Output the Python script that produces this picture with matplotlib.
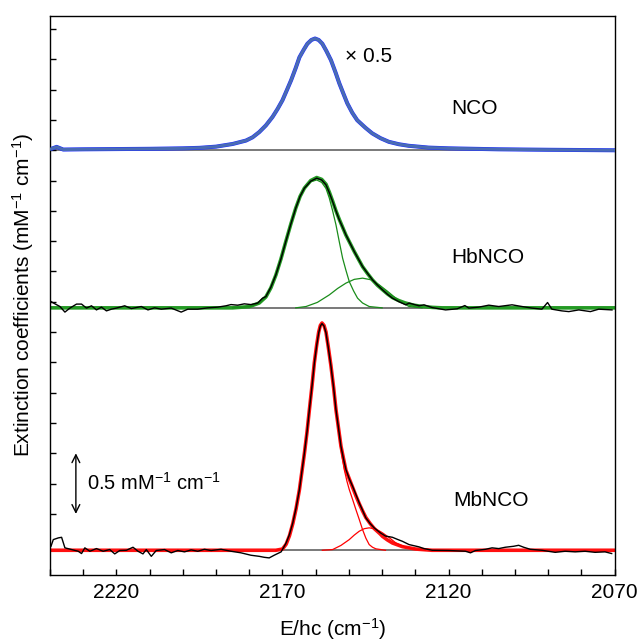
import matplotlib
matplotlib.use("Agg")
import matplotlib.pyplot as plt
from matplotlib.ticker import MultipleLocator, FixedLocator

plt.rcParams['font.family'] = ['Liberation Sans', 'DejaVu Sans']
plt.rcParams['mathtext.fontset'] = 'custom'
plt.rcParams['mathtext.rm'] = 'Liberation Sans'
plt.rcParams['mathtext.it'] = 'Liberation Sans'

# ── data (wavenumber in cm-1, extinction relative to each baseline) ──────────
base_nco, base_hb, base_mb = 3.5, 2.2, 0.2

nco_x = [2240, 2238, 2236, 2230, 2220, 2210, 2200, 2195, 2190, 2185, 2181,
         2179, 2177, 2175, 2173, 2171.5, 2170, 2168.7, 2167.4, 2166, 2164.9,
         2163.6, 2162.5, 2161.3, 2160.2, 2159.1, 2158, 2156.8, 2155.4, 2154,
         2152.9, 2151.7, 2150.5, 2149, 2147.5, 2145, 2143, 2140.5, 2138,
         2135, 2132, 2126, 2120, 2105, 2090, 2070]
nco_y = [0.008, 0.028, 0.006, 0.008, 0.010, 0.012, 0.016, 0.020, 0.030, 0.052,
         0.080, 0.107, 0.150, 0.205, 0.275, 0.340, 0.413, 0.495, 0.578, 0.680,
         0.767, 0.830, 0.879, 0.910, 0.922, 0.910, 0.879, 0.820, 0.743, 0.640,
         0.553, 0.470, 0.388, 0.310, 0.248, 0.185, 0.140, 0.100, 0.070,
         0.050, 0.037, 0.022, 0.016, 0.008, 0.004, 0.000]

hb_x = [2239.7, 2238.5, 2237, 2235.5, 2234, 2232, 2230.5, 2229, 2227.5, 2226,
        2224.5, 2223, 2221.5, 2220, 2217.5, 2215.5, 2212.5, 2210.5, 2208.5,
        2206.5, 2203.5, 2200.5, 2198.5, 2195.5, 2192.5, 2189.5, 2187, 2185.5,
        2183.5, 2181.5, 2179.5, 2177.5, 2176, 2175, 2173.5, 2172, 2170.5,
        2169, 2167.5, 2166, 2164.7, 2163.4, 2161.5, 2159.7, 2158.2, 2156.9,
        2155.9, 2154.9, 2153.9, 2152.9, 2151.9, 2150.9, 2149.6, 2148.4, 2147.1,
        2145.9, 2144.4, 2142.9, 2141.4, 2139.9, 2138.4, 2136.9, 2134.9, 2132.9,
        2131.9, 2128.9, 2127.4, 2124.9, 2120.9, 2117.4, 2115.1, 2113.9, 2110.9,
        2107.9, 2104.9, 2100.9, 2097.9, 2094.9, 2091.9, 2090.2, 2088.9, 2085.9,
        2083.8, 2080.8, 2077.3, 2074.8, 2070.8]
hb_y = [0.052, 0.033, 0.011, -0.035, -0.002, 0.031, 0.031, -0.002, 0.017,
        -0.017, 0.006, -0.025, -0.011, -0.002, 0.017, -0.006, 0.011, -0.017,
        0.000, -0.011, -0.002, -0.035, -0.011, -0.011, 0.000, 0.006, 0.017,
        0.027, 0.022, 0.033, 0.027, 0.039, 0.080, 0.093, 0.170, 0.272, 0.400,
        0.547, 0.690, 0.823, 0.920, 0.988, 1.045, 1.070, 1.055, 1.015, 0.950,
        0.877, 0.800, 0.726, 0.665, 0.602, 0.530, 0.465, 0.400, 0.341, 0.285,
        0.231, 0.188, 0.149, 0.112, 0.080, 0.050, 0.025, 0.039, 0.017, 0.025,
        0.002, -0.017, -0.008, 0.019, -0.002, 0.006, 0.022, 0.011, 0.025,
        0.011, -0.002, -0.011, 0.044, -0.011, -0.025, -0.031, -0.017, -0.031,
        -0.011, -0.017]

hb_fit_x = [2240, 2185, 2180, 2177, 2175, 2173.5, 2172, 2170.5, 2169, 2167.5,
            2166, 2164.7, 2163.4, 2161.5, 2159.7, 2158.2, 2156.9, 2155.9,
            2154.9, 2153.9, 2152.9, 2151.9, 2150.9, 2149.6, 2148.4, 2147.1,
            2145.9, 2144.4, 2142.9, 2141.4, 2139.9, 2138.4, 2136.9, 2135,
            2133, 2130.5, 2128, 2125, 2122, 2070]
hb_fit_y = [0.0, 0.0, 0.010, 0.040, 0.090, 0.165, 0.270, 0.400, 0.547, 0.690,
            0.823, 0.920, 0.988, 1.050, 1.075, 1.060, 1.020, 0.955, 0.880,
            0.800, 0.730, 0.665, 0.600, 0.530, 0.465, 0.400, 0.340, 0.283,
            0.230, 0.186, 0.150, 0.115, 0.085, 0.060, 0.040, 0.022, 0.012,
            0.004, 0.0, 0.0]

hb_c1_x = [2185, 2180, 2177, 2175, 2173.5, 2172, 2170.5, 2169, 2167.5, 2166,
           2164.7, 2163.4, 2161.5, 2159.7, 2158.2, 2156.9, 2155.9, 2154.9,
           2153.9, 2152.9, 2151.9, 2150.9, 2149.9, 2148.6, 2147.4, 2145.9,
           2143.9, 2140]
hb_c1_y = [0.0, 0.010, 0.040, 0.090, 0.165, 0.270, 0.400, 0.547, 0.690,
           0.823, 0.920, 0.985, 1.040, 1.055, 1.035, 0.985, 0.905, 0.800,
           0.685, 0.545, 0.410, 0.310, 0.217, 0.140, 0.080, 0.040, 0.011, 0.0]

hb_c2_x = [2166, 2162.9, 2159.5, 2155.9, 2153.4, 2150.9, 2148.4, 2145.9,
           2143.4, 2140.9, 2138.4, 2135.9, 2133.9, 2131.9, 2128]
hb_c2_y = [0.0, 0.011, 0.045, 0.107, 0.160, 0.204, 0.235, 0.245, 0.232,
           0.190, 0.137, 0.080, 0.042, 0.011, 0.0]

mb_x = [2239.7, 2239, 2237.5, 2236.5, 2235.5, 2233.5, 2231.5, 2230.5, 2229.5,
        2228, 2226, 2224, 2222, 2220.5, 2219, 2217, 2215, 2213.5, 2212, 2211,
        2209.5, 2208, 2205.5, 2203.5, 2201.5, 2199.5, 2197.5, 2195.5, 2193.5,
        2191.5, 2188.5, 2185.5, 2182.5, 2179.5, 2177, 2175.5, 2174, 2172.5,
        2170.4, 2168.9, 2167.9, 2166.9, 2165.9, 2164.9, 2163.4, 2162.6, 2161.9,
        2161.1, 2160.4, 2159.7, 2159.1, 2158.6, 2158.1, 2157.5, 2156.9, 2156.2,
        2155.4, 2154.6, 2153.9, 2153.1, 2152.4, 2151.6, 2150.9, 2149.9, 2148.9,
        2147.9, 2146.9, 2145.9, 2144.9, 2143.6, 2142.4, 2140.6, 2138.9, 2137.9,
        2136.9, 2135.4, 2133.9, 2131.9, 2128.9, 2127.4, 2124.9, 2119.9, 2114.9,
        2113.4, 2111.9, 2108.9, 2106.9, 2104.9, 2102.9, 2100.4, 2098.9, 2097.4,
        2095.4, 2091.9, 2087.9, 2084.9, 2081.9, 2078.9, 2075.9, 2072.9, 2070.9]
mb_y = [0.033, 0.088, 0.102, 0.107, 0.020, 0.006, -0.008, -0.027, 0.020,
        -0.008, 0.014, -0.008, 0.006, -0.030, -0.002, 0.000, 0.025, -0.008,
        -0.030, 0.006, -0.050, -0.002, 0.006, -0.021, -0.002, -0.013, 0.003,
        -0.008, 0.008, -0.002, 0.008, -0.008, -0.021, -0.041, -0.050, -0.058,
        -0.063, -0.041, -0.013, 0.061, 0.130, 0.226, 0.350, 0.501, 0.804,
        0.980, 1.161, 1.360, 1.546, 1.690, 1.794, 1.850, 1.870, 1.850, 1.794,
        1.670, 1.518, 1.340, 1.161, 1.000, 0.858, 0.750, 0.666, 0.590, 0.528,
        0.460, 0.391, 0.330, 0.267, 0.220, 0.185, 0.145, 0.116, 0.112, 0.107,
        0.090, 0.074, 0.047, 0.028, 0.014, 0.000, -0.002, -0.008, -0.021,
        -0.002, 0.008, 0.020, 0.014, 0.025, 0.033, 0.041, 0.025, 0.008, 0.000,
        -0.017, -0.008, -0.013, -0.008, -0.017, -0.013, -0.027]

mb_fit_x = [2240, 2172, 2170, 2168.9, 2167.9, 2166.9, 2165.9, 2164.9, 2163.4,
            2162.6, 2161.9, 2161.1, 2160.4, 2159.7, 2159.1, 2158.6, 2158.1,
            2157.5, 2156.9, 2156.2, 2155.4, 2154.6, 2153.9, 2153.1, 2152.4,
            2151.6, 2150.9, 2149.9, 2148.9, 2147.9, 2146.9, 2145.9, 2144.9,
            2143.6, 2142.4, 2140.6, 2139.9, 2138.4, 2136.9, 2133.9, 2129.9,
            2125, 2070]
mb_fit_y = [0.0, 0.0, 0.010, 0.050, 0.120, 0.220, 0.345, 0.500, 0.800, 0.980,
            1.160, 1.360, 1.550, 1.695, 1.800, 1.855, 1.875, 1.855, 1.800,
            1.675, 1.520, 1.340, 1.160, 1.000, 0.860, 0.752, 0.660, 0.590,
            0.520, 0.450, 0.385, 0.325, 0.270, 0.220, 0.180, 0.135, 0.115,
            0.085, 0.060, 0.030, 0.010, 0.0, 0.0]

mb_c1_x = [2172, 2170, 2168.9, 2167.9, 2166.9, 2165.9, 2164.9, 2163.4, 2162.6,
           2161.9, 2161.1, 2160.4, 2159.7, 2159.1, 2158.6, 2158.1, 2157.5,
           2156.9, 2156.2, 2155.4, 2154.6, 2153.9, 2153.1, 2152.4, 2151.4,
           2150.6, 2149.9, 2148.9, 2147.9, 2146.9, 2145.9, 2144.9, 2143.9,
           2142.9, 2141.9, 2139]
mb_c1_y = [0.0, 0.010, 0.050, 0.120, 0.220, 0.345, 0.500, 0.800, 0.980,
           1.160, 1.360, 1.550, 1.695, 1.800, 1.855, 1.870, 1.850, 1.790,
           1.665, 1.510, 1.325, 1.140, 0.975, 0.830, 0.666, 0.570, 0.501,
           0.420, 0.336, 0.255, 0.171, 0.100, 0.047, 0.025, 0.012, 0.0]

mb_c2_x = [2158, 2154.9, 2152.4, 2149.9, 2148.4, 2146.9, 2145.4, 2143.9,
           2142.4, 2141, 2139.9, 2137.9, 2135.9, 2133.4, 2130.9, 2127]
mb_c2_y = [0.0, 0.006, 0.040, 0.088, 0.125, 0.157, 0.178, 0.185, 0.178,
           0.162, 0.144, 0.105, 0.061, 0.030, 0.012, 0.0]

xticks_major = [2220, 2170, 2120, 2070]
yticks = [0.5 + 0.25 * k for k in range(17)]

# ── plot ──────────────────────────────────────────────────────────────────────
fig = plt.figure(figsize=(6.39, 6.44), dpi=100)
ax = fig.add_axes([0.0782, 0.1079, 0.8837, 0.8673])

for b in (base_nco, base_hb, base_mb):
    ax.axhline(b, color='#555555', lw=1.1, zorder=1)

# NCO
ax.plot(nco_x, [v + base_nco for v in nco_y], color='#1f2fff', lw=2.9, zorder=2)
ax.plot(nco_x, [v + base_nco for v in nco_y], color='#4a6cb4', lw=2.2, zorder=3)

# HbNCO
ax.plot(hb_fit_x, [v + base_hb for v in hb_fit_y], color='#249a24', lw=2.6, zorder=2)
ax.plot(hb_c1_x, [v + base_hb for v in hb_c1_y], color='#1a8c1a', lw=0.9, zorder=3)
ax.plot(hb_c2_x, [v + base_hb for v in hb_c2_y], color='#1a8c1a', lw=0.9, zorder=3)
ax.plot(hb_x, [v + base_hb for v in hb_y], color='black', lw=1.0, zorder=4)

# MbNCO
ax.plot(mb_fit_x, [v + base_mb for v in mb_fit_y], color='#ff1010', lw=2.6, zorder=2)
ax.plot(mb_c1_x, [v + base_mb for v in mb_c1_y], color='red', lw=0.9, zorder=3)
ax.plot(mb_c2_x, [v + base_mb for v in mb_c2_y], color='red', lw=0.9, zorder=3)
ax.plot(mb_x, [v + base_mb for v in mb_y], color='black', lw=1.0, zorder=4)

ax.set_xlim(2240, 2070)
ax.set_ylim(0, 4.608)
ax.xaxis.set_major_locator(FixedLocator(xticks_major))
ax.xaxis.set_minor_locator(MultipleLocator(10))
ax.yaxis.set_major_locator(FixedLocator(yticks))
ax.set_yticklabels([])
ax.tick_params(axis='both', which='both', direction='in', length=4.5, width=1.0,
               top=False, right=False, labelsize=15, pad=6)
for s in ax.spines.values():
    s.set_linewidth(1.0)

ax.set_xlabel('E/hc (cm$^{-1}$)', fontsize=15, labelpad=10)
ax.set_ylabel('Extinction coefficients (mM$^{-1}$ cm$^{-1}$)', fontsize=15, labelpad=4)

ax.text(0.522, 0.927, '× 0.5', transform=ax.transAxes, fontsize=15, va='center', ha='left')
ax.text(0.751, 0.835, 'NCO', transform=ax.transAxes, fontsize=15, va='center', ha='center')
ax.text(0.776, 0.568, 'HbNCO', transform=ax.transAxes, fontsize=15, va='center', ha='center')
ax.text(0.781, 0.132, 'MbNCO', transform=ax.transAxes, fontsize=15, va='center', ha='center')
ax.text(0.065, 0.164, '0.5 mM$^{-1}$ cm$^{-1}$', transform=ax.transAxes, fontsize=14.5,
        va='center', ha='left')
ax.annotate('', xy=(2232.2, 0.5), xytext=(2232.2, 1.0),
            arrowprops=dict(arrowstyle='<->', color='black', lw=1.0,
                            shrinkA=0, shrinkB=0, mutation_scale=14))

fig.savefig('out.png', dpi=100)
